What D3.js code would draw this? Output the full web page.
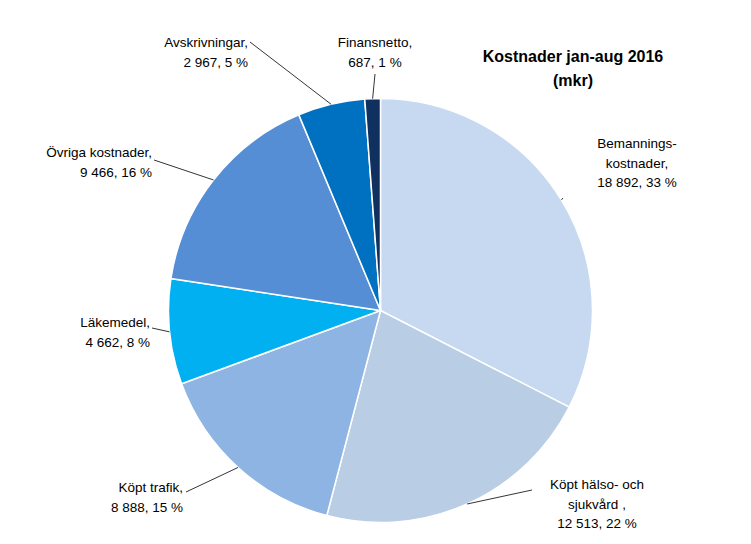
<!DOCTYPE html>
<html><head><meta charset="utf-8">
<script src="https://cdn.jsdelivr.net/npm/d3@7"></script>
<style>body{margin:0;background:#fff}text{font-family:"Liberation Sans",Arial,sans-serif;font-size:13.5px;fill:#000}</style>
</head><body><svg id="c" width="751" height="544"></svg>
<script>
const categories = ["Bemannings-kostnader", "Köpt hälso- och sjukvård", "Köpt trafik", "Läkemedel", "Övriga kostnader", "Avskrivningar", "Finansnetto"];
const values = [18892, 12513, 8888, 4662, 9466, 2967, 687];
const percents = [33, 22, 15, 8, 16, 5, 1];
const labelLines = [
  ["Bemannings-", "kostnader,", "18 892, 33 %"],
  ["Köpt hälso- och", "sjukvård ,", "12 513, 22 %"],
  ["Köpt trafik,", "8 888, 15 %"],
  ["Läkemedel,", "4 662, 8 %"],
  ["Övriga kostnader,", "9 466, 16 %"],
  ["Avskrivningar,", "2 967, 5 %"],
  ["Finansnetto,", "687, 1 %"]
];
const colors = ["#c6d9f1", "#b9cde5", "#8eb4e3", "#00b0f0", "#558ed5", "#0070c0", "#10305f"];
// label layout: x, first line y, anchor, leader end point
const labelPos = [
  {x: 637, y: 148, a: "middle", lx: 563, ly: 198},
  {x: 597, y: 489, a: "middle", lx: 532, ly: 490},
  {x: 183, y: 492, a: "end", lx: 186, ly: 492},
  {x: 150, y: 327, a: "end", lx: 152, ly: 328},
  {x: 152, y: 157, a: "end", lx: 154, ly: 160},
  {x: 248, y: 47, a: "end", lx: 250, ly: 42},
  {x: 375, y: 47, a: "middle", lx: 375, ly: 74}
];

const svg = d3.select("#c");
const cx = 380.5, cy = 310.5, r = 212;
const g = svg.append("g").attr("transform", `translate(${cx},${cy})`);
const pie = d3.pie().sort(null).value(d => d)(values);
const arc = d3.arc().innerRadius(0).outerRadius(r);
const color = d3.scaleOrdinal().domain(categories).range(colors);

g.selectAll("path").data(pie).enter().append("path")
  .attr("d", arc).attr("fill", (d, i) => color(categories[i]))
  .attr("stroke", "#fff").attr("stroke-width", 1.5);

const edge = d3.arc().innerRadius(r).outerRadius(r);
pie.forEach((d, i) => {
  const p = labelPos[i];
  const a = (d.startAngle + d.endAngle) / 2;
  const ex = cx + Math.sin(a) * r, ey = cy - Math.cos(a) * r;
  svg.append("line").attr("x1", p.lx).attr("y1", p.ly).attr("x2", ex).attr("y2", ey)
    .attr("stroke", "#000").attr("stroke-width", 0.8);
  const t = svg.append("text").attr("text-anchor", p.a);
  labelLines[i].forEach((s, k) => t.append("tspan").attr("x", p.x).attr("y", p.y + k * 19.5).text(s));
});

svg.append("text").attr("x", 573).attr("y", 62).attr("text-anchor", "middle")
  .style("font-weight", "bold").style("font-size", "16px").text("Kostnader jan-aug  2016");
svg.append("text").attr("x", 573).attr("y", 86).attr("text-anchor", "middle")
  .style("font-weight", "bold").style("font-size", "16px").text("(mkr)");
</script></body></html>
